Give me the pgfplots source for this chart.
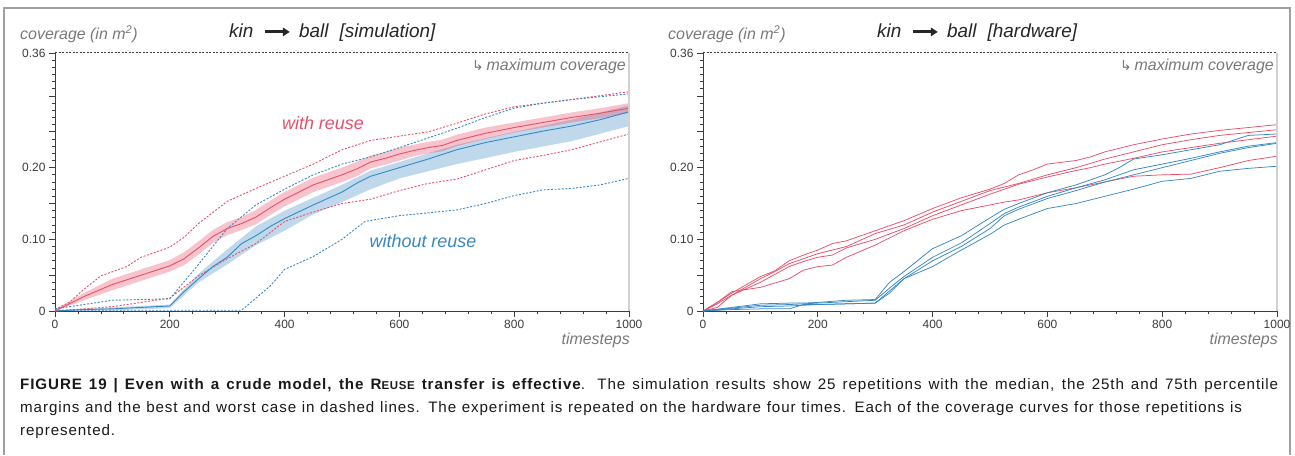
\documentclass[border=0pt]{standalone}
\usepackage{pgfplots}
\pgfplotsset{compat=1.18}
\usepgfplotslibrary{fillbetween}
\usetikzlibrary{arrows.meta}
\usepackage{fontspec}
\setmainfont{Liberation Sans}
\newfontfamily\dejavu{DejaVu Sans}
\newfontfamily\capfont[LetterSpace=6]{Liberation Sans}
\definecolor{cred}{RGB}{232,78,105}
\definecolor{cblue}{RGB}{55,135,195}
\definecolor{cgray}{RGB}{120,120,120}
\definecolor{cdark}{RGB}{60,60,60}

% ---------- simulation data ----------
\pgfplotstableread{
t v
0 0
50 0.020
100 0.037
150 0.050
200 0.063
225 0.073
250 0.088
275 0.104
300 0.115
325 0.122
350 0.131
375 0.144
400 0.156
425 0.166
450 0.176
475 0.183
500 0.190
525 0.198
550 0.208
575 0.213
600 0.219
625 0.224
650 0.228
675 0.231
700 0.238
750 0.248
800 0.256
850 0.263
900 0.270
950 0.276
1000 0.283
}\redmed
\pgfplotstableread{
t v
0 0.002
50 0.025
100 0.045
150 0.058
200 0.071
225 0.082
250 0.097
275 0.113
300 0.124
325 0.131
350 0.141
375 0.154
400 0.166
425 0.176
450 0.186
475 0.193
500 0.200
525 0.208
550 0.217
575 0.222
600 0.228
625 0.232
650 0.236
675 0.239
700 0.246
750 0.256
800 0.263
850 0.270
900 0.277
950 0.283
1000 0.290
}\redup
\pgfplotstableread{
t v
0 0
50 0.015
100 0.029
150 0.042
200 0.055
225 0.064
250 0.079
275 0.095
300 0.106
325 0.113
350 0.121
375 0.134
400 0.146
425 0.156
450 0.166
475 0.173
500 0.180
525 0.188
550 0.199
575 0.204
600 0.210
625 0.216
650 0.220
675 0.223
700 0.230
750 0.240
800 0.249
850 0.256
900 0.263
950 0.269
1000 0.276
}\redlo
\pgfplotstableread{
t v
0 0
50 0.002
100 0.003
150 0.005
200 0.007
225 0.027
250 0.045
275 0.062
300 0.075
325 0.094
350 0.105
375 0.118
400 0.129
450 0.148
500 0.166
525 0.178
550 0.188
600 0.200
650 0.212
700 0.225
750 0.235
800 0.243
850 0.251
900 0.258
950 0.267
1000 0.278
}\bluemed
\pgfplotstableread{
t v
0 0.001
100 0.005
200 0.009
250 0.052
300 0.086
350 0.118
400 0.140
450 0.158
500 0.176
550 0.196
600 0.208
700 0.232
800 0.250
900 0.267
1000 0.287
}\blueup
\pgfplotstableread{
t v
0 0
100 0.001
200 0.004
250 0.040
300 0.065
350 0.092
400 0.112
450 0.135
500 0.152
550 0.170
600 0.185
700 0.205
800 0.222
900 0.237
1000 0.258
}\bluelo
\pgfplotstableread{
t v
0 0.002
25 0.012
50 0.030
80 0.049
125 0.062
150 0.075
200 0.089
225 0.103
250 0.122
300 0.153
350 0.171
400 0.188
450 0.205
500 0.225
550 0.238
600 0.244
650 0.250
700 0.262
750 0.275
800 0.285
900 0.295
1000 0.306
}\redbest
\pgfplotstableread{
t v
0 0
100 0.006
150 0.012
200 0.018
250 0.049
300 0.073
350 0.094
400 0.125
450 0.138
500 0.150
550 0.156
600 0.168
650 0.178
700 0.184
750 0.197
800 0.210
850 0.217
900 0.225
950 0.236
1000 0.247
}\redworst
\pgfplotstableread{
t v
0 0.003
100 0.015
200 0.017
250 0.065
300 0.115
350 0.148
400 0.170
450 0.190
500 0.205
550 0.215
600 0.228
700 0.255
750 0.270
800 0.283
850 0.290
900 0.295
1000 0.303
}\bluebest
\pgfplotstableread{
t v
0 0.001
325 0.001
375 0.035
400 0.058
450 0.076
500 0.100
540 0.125
600 0.133
700 0.141
750 0.150
800 0.161
850 0.169
900 0.171
950 0.176
1000 0.185
}\blueworst

% ---------- hardware data ----------
\pgfplotstableread{
t a b c d
0 0 0 0 0
25 0.012 0.010 0.005 0.012
50 0.025 0.022 0.022 0.027
100 0.048 0.045 0.040 0.033
125 0.056 0.055 0.051 0.039
150 0.070 0.066 0.062 0.045
175 0.078 0.073 0.069 0.057
200 0.085 0.080 0.075 0.062
225 0.094 0.085 0.078 0.064
250 0.098 0.090 0.088 0.075
300 0.112 0.108 0.100 0.092
350 0.126 0.120 0.115 0.112
400 0.143 0.138 0.133 0.128
450 0.158 0.153 0.148 0.140
500 0.170 0.168 0.163 0.148
525 0.178 0.173 0.170 0.152
550 0.190 0.178 0.177 0.155
575 0.197 0.184 0.182 0.160
600 0.205 0.190 0.187 0.165
650 0.210 0.200 0.196 0.172
675 0.215 0.206 0.200 0.176
700 0.222 0.212 0.205 0.180
750 0.232 0.222 0.213 0.188
800 0.240 0.232 0.222 0.190
850 0.247 0.239 0.228 0.191
900 0.252 0.245 0.234 0.200
950 0.256 0.249 0.239 0.210
1000 0.260 0.253 0.244 0.216
}\hwred
\pgfplotstableread{
t e f g h
0 0 0 0 0
50 0.005 0.004 0.003 0.002
100 0.010 0.008 0.006 0.003
150 0.011 0.009 0.007 0.003
175 0.011 0.010 0.008 0.009
200 0.012 0.011 0.009 0.009
250 0.015 0.013 0.010 0.010
300 0.016 0.015 0.011 0.011
325 0.040 0.032 0.028 0.025
350 0.055 0.048 0.045 0.045
400 0.087 0.075 0.070 0.062
450 0.105 0.095 0.090 0.085
500 0.130 0.122 0.115 0.107
525 0.142 0.136 0.133 0.120
550 0.150 0.145 0.142 0.128
600 0.165 0.160 0.157 0.143
650 0.176 0.172 0.168 0.150
700 0.190 0.183 0.180 0.160
725 0.200 0.190 0.185 0.165
750 0.212 0.197 0.190 0.170
800 0.218 0.205 0.200 0.181
850 0.225 0.213 0.210 0.185
900 0.232 0.222 0.220 0.195
950 0.245 0.230 0.228 0.199
1000 0.247 0.235 0.234 0.202
}\hwblue

\pgfplotsset{
  cov/.style={
    scale only axis, width=574bp, height=258bp,
    xmin=0, xmax=1000, ymin=0, ymax=0.36,
    axis x line*=bottom, axis y line*=left,
    axis line style={cdark, line width=0.9bp},
    tick align=outside,
    xtick={0,200,...,1000}, minor x tick num=4,
    ytick={0,0.1,0.2,0.36}, yticklabels={0,0.10,0.20,0.36},
    xticklabels={0,200,400,600,800,1000},
    extra y ticks={0.05,0.15,0.25,0.30}, extra y tick labels={},
    minor ytick={0.01,0.02,0.03,0.04,0.06,0.07,0.08,0.09,0.11,0.12,0.13,0.14,0.16,0.17,0.18,0.19,0.21,0.22,0.23,0.24,0.26,0.27,0.28,0.29,0.31,0.32,0.33,0.34,0.35},
    major tick length=6bp, minor tick length=3.5bp,
    every tick/.style={cdark, line width=0.8bp},
    ticklabel style={font=\fontsize{12}{12}\selectfont, text=cdark},
    /pgf/number format/assume math mode=true,
    clip=false,
  },
  med/.style={line width=0.9bp},
  dsh/.style={line width=0.9bp, dash pattern=on 2bp off 1.6bp},
  hw/.style={line width=0.75bp},
}

\newcommand{\gl}[1]{\fontsize{16}{16}\selectfont\itshape\color{cgray}#1}
\newcommand{\titlearrow}{\tikz[baseline=-0.6ex]\draw[line width=2.8bp,-{Triangle[length=7bp,width=8.5bp]}] (0,0)--(25bp,0);}

\begin{document}
\begin{tikzpicture}
\path (0bp,0bp) rectangle (1295bp,455bp);
\draw[gray!75, line width=1.3bp] (4bp,0bp) -- (4bp,447bp) -- (1290bp,447bp) -- (1290bp,0bp);

% ================= left: simulation =================
\begin{axis}[cov, at={(55bp,144bp)}, anchor=south west]
\addplot[name path=bu, draw=none, forget plot] table[x=t,y=v] {\blueup};
\addplot[name path=bl, draw=none, forget plot] table[x=t,y=v] {\bluelo};
\addplot[cblue, fill opacity=0.32, draw=none] fill between[of=bu and bl];
\addplot[name path=ru, draw=none, forget plot] table[x=t,y=v] {\redup};
\addplot[name path=rl, draw=none, forget plot] table[x=t,y=v] {\redlo};
\addplot[cred, fill opacity=0.34, draw=none] fill between[of=ru and rl];
\addplot[cred, dsh] table[x=t,y=v] {\redbest};
\addplot[cred, dsh] table[x=t,y=v] {\redworst};
\addplot[cblue, dsh] table[x=t,y=v] {\bluebest};
\addplot[cblue, dsh] table[x=t,y=v] {\blueworst};
\addplot[cblue, med] table[x=t,y=v] {\bluemed};
\addplot[cred, med] table[x=t,y=v] {\redmed};
\addplot[cdark, line width=1bp, dash pattern=on 2bp off 1.5bp] coordinates {(0,0.36) (1000,0.36)};
\draw[gray!35, line width=1.2bp] (rel axis cs:1,0) -- (rel axis cs:1,1);
\end{axis}

% ================= right: hardware =================
\begin{axis}[cov, at={(703bp,144bp)}, anchor=south west]
\addplot[cred, hw] table[x=t,y=a] {\hwred};
\addplot[cred, hw] table[x=t,y=b] {\hwred};
\addplot[cred, hw] table[x=t,y=c] {\hwred};
\addplot[cred, hw] table[x=t,y=d] {\hwred};
\addplot[cblue, hw] table[x=t,y=e] {\hwblue};
\addplot[cblue, hw] table[x=t,y=f] {\hwblue};
\addplot[cblue, hw] table[x=t,y=g] {\hwblue};
\addplot[cblue, hw] table[x=t,y=h] {\hwblue};
\addplot[cdark, line width=1bp, dash pattern=on 2bp off 1.5bp] coordinates {(0,0.36) (1000,0.36)};
\draw[gray!35, line width=1.2bp] (rel axis cs:1,0) -- (rel axis cs:1,1);
\end{axis}

% ---- texts ----
\foreach \ox/\lab in {0/simulation, 648/hardware} {
  \node[anchor=west, inner sep=0] at ({(20+\ox)*1bp},421bp) {\gl{coverage (in m\textsuperscript{2})}};
  \node[anchor=west, inner sep=0, text=black!85] at ({(229+\ox)*1bp},422bp) {\fontsize{19}{19}\selectfont\itshape kin\hspace{10bp}\titlearrow\hspace{8bp}ball\hspace{11bp}[\lab]};
  \node[anchor=east, inner sep=0] at ({(626+\ox)*1bp},389bp) {{\color{cgray}\dejavu\fontsize{14}{14}\selectfont ↳}\hspace{3bp}\gl{maximum coverage}};
  \node[anchor=east, inner sep=0] at ({(630+\ox)*1bp},115bp) {\gl{timesteps}};
}
\node[text=cred] at (323bp,332bp) {\fontsize{18}{18}\selectfont\itshape with reuse};
\node[text=cblue] at (423bp,214bp) {\fontsize{18}{18}\selectfont\itshape without reuse};

% ---- caption ----
\node[anchor=base west, inner sep=0, align=left, text=black!90, font=\capfont\fontsize{15.2}{23}\selectfont] at (20bp,20bp) {%
\makebox[1258bp][s]{\textbf{FIGURE 19 | Even with a crude model, the R{\fontsize{11.5}{11.5}\selectfont EUSE} transfer is effective}. The simulation results show 25 repetitions with the median, the 25th and 75th percentile}\\
\makebox[1222bp][s]{margins and the best and worst case in dashed lines. The experiment is repeated on the hardware four times. Each of the coverage curves for those repetitions is}\\
represented.};
\end{tikzpicture}
\end{document}
